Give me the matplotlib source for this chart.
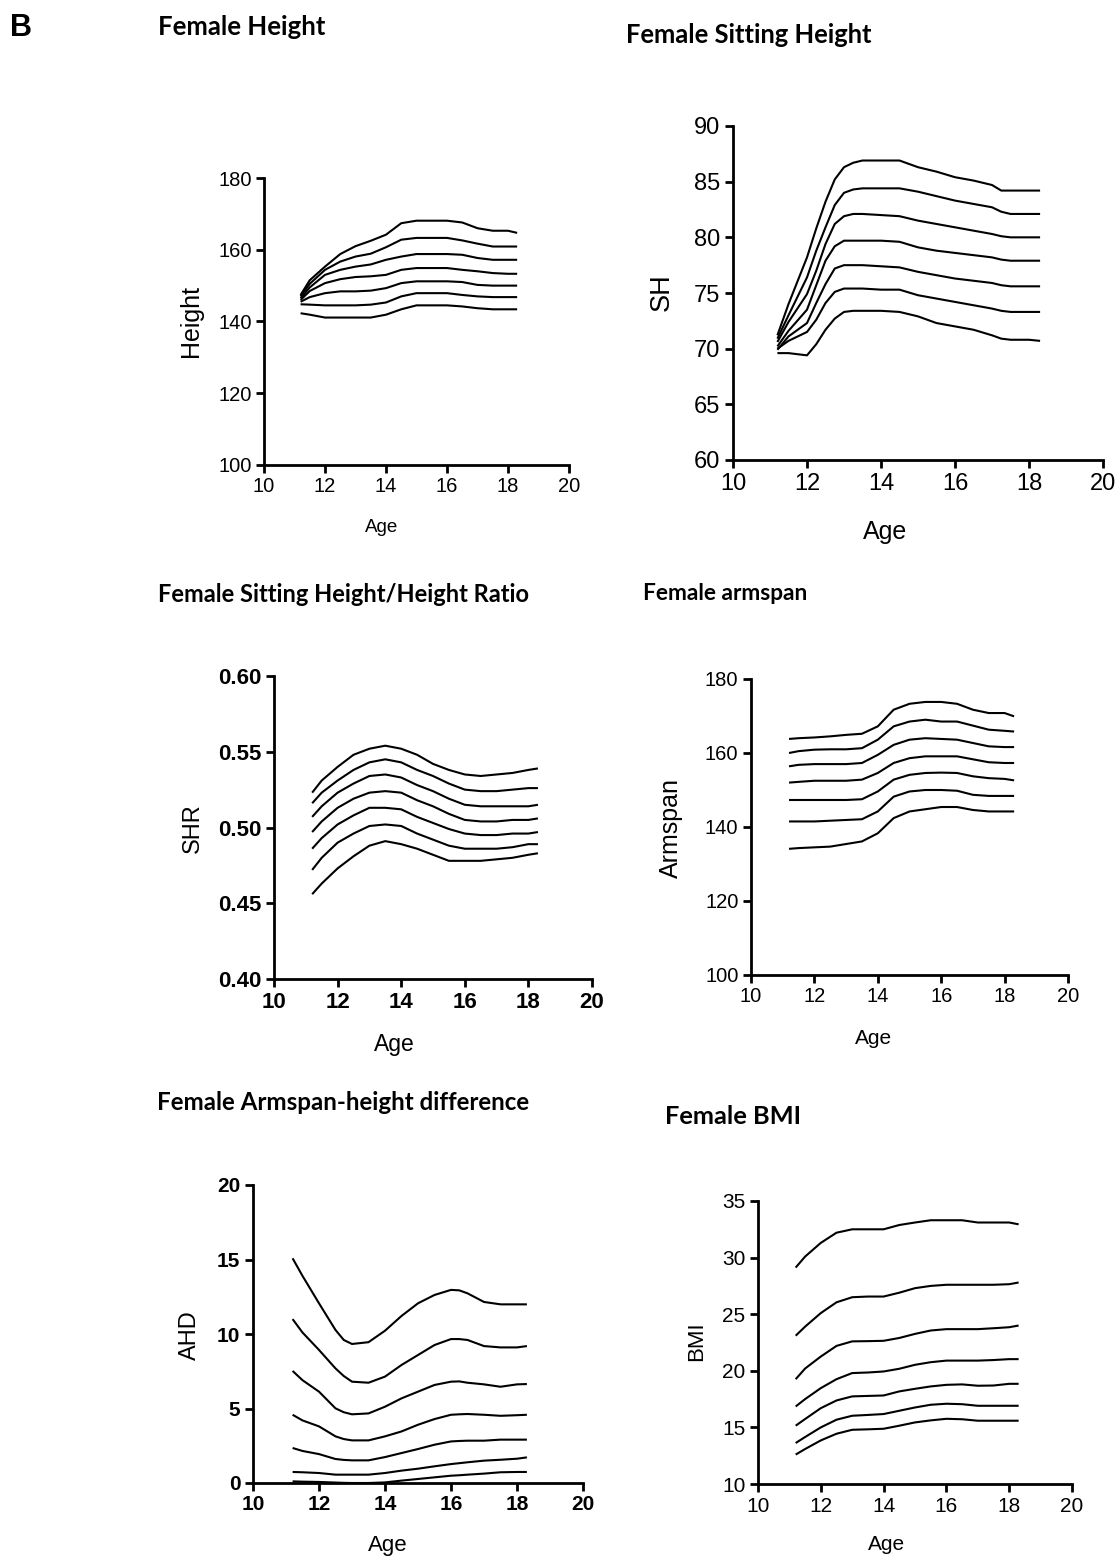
import matplotlib.pyplot as plt

# common age grid for the percentile curves (years)
ages = [11.2, 11.5, 12.0, 12.5, 13.0, 13.5, 14.0, 14.5, 15.0, 15.5, 16.0, 16.5, 17.0, 17.5, 18.0, 18.3]
# denser grids where the curves bend sharply
ages_sh = [11.2, 11.5, 12.0, 12.25, 12.5, 12.75, 13.0, 13.25, 13.5, 14.0,
           14.5, 15.0, 15.5, 16.0, 16.5, 17.0, 17.25, 17.5, 18.0, 18.3]
ages_ahd = [11.2, 11.5, 12.0, 12.5, 12.75, 13.0, 13.5, 14.0, 14.5, 15.0,
            15.5, 16.0, 16.25, 16.5, 17.0, 17.5, 18.0, 18.3]

# Height (cm), highest percentile first
height_curves = [
    [147.4, 151.5, 155.3, 158.8, 161.0, 162.5, 164.2, 167.4, 168.1, 168.1, 168.1, 167.6, 166.0, 165.3, 165.3, 164.7],
    [147.0, 150.5, 154.4, 156.7, 158.1, 158.9, 160.7, 162.8, 163.3, 163.3, 163.3, 162.6, 161.7, 160.9, 160.9, 160.9],
    [146.5, 149.5, 153.0, 154.4, 155.3, 155.9, 157.2, 158.1, 158.8, 158.8, 158.8, 158.6, 157.7, 157.2, 157.2, 157.2],
    [146.0, 148.5, 150.7, 151.8, 152.4, 152.6, 153.0, 154.4, 154.9, 154.9, 154.9, 154.4, 154.0, 153.5, 153.3, 153.3],
    [145.5, 146.8, 147.9, 148.4, 148.4, 148.6, 149.3, 150.7, 151.2, 151.2, 151.2, 151.0, 150.2, 150.0, 150.0, 150.0],
    [144.8, 144.7, 144.5, 144.5, 144.5, 144.7, 145.3, 147.0, 147.9, 147.9, 147.9, 147.4, 147.0, 146.8, 146.8, 146.8],
    [142.3, 141.9, 141.1, 141.1, 141.1, 141.1, 141.9, 143.4, 144.5, 144.5, 144.5, 144.2, 143.7, 143.4, 143.4, 143.4],
]

# Sitting height (cm)
sh_curves = [
    [71.2, 74.0, 78.2, 80.8, 83.2, 85.2, 86.3, 86.7, 86.9, 86.9, 86.9, 86.3, 85.9, 85.4, 85.1, 84.7, 84.2, 84.2, 84.2, 84.2],
    [70.9, 73.0, 76.4, 78.8, 80.9, 82.9, 84.0, 84.3, 84.4, 84.4, 84.4, 84.1, 83.7, 83.3, 83.0, 82.7, 82.3, 82.1, 82.1, 82.1],
    [70.6, 72.4, 74.9, 77.0, 79.4, 81.2, 81.9, 82.1, 82.1, 82.0, 81.9, 81.5, 81.2, 80.9, 80.6, 80.3, 80.1, 80.0, 80.0, 80.0],
    [70.2, 71.6, 73.5, 75.7, 77.9, 79.2, 79.7, 79.7, 79.7, 79.7, 79.6, 79.1, 78.8, 78.6, 78.4, 78.2, 78.0, 77.9, 77.9, 77.9],
    [69.9, 71.1, 72.3, 74.1, 75.8, 77.2, 77.5, 77.5, 77.5, 77.4, 77.3, 76.9, 76.6, 76.3, 76.1, 75.9, 75.7, 75.6, 75.6, 75.6],
    [70.0, 70.7, 71.5, 72.6, 74.1, 75.1, 75.4, 75.4, 75.4, 75.3, 75.3, 74.8, 74.5, 74.2, 73.9, 73.6, 73.4, 73.3, 73.3, 73.3],
    [69.6, 69.6, 69.4, 70.4, 71.7, 72.7, 73.3, 73.4, 73.4, 73.4, 73.3, 72.9, 72.3, 72.0, 71.7, 71.2, 70.9, 70.8, 70.8, 70.7],
]

# Sitting height / height ratio
shr_curves = [
    [0.523, 0.531, 0.540, 0.548, 0.552, 0.554, 0.552, 0.548, 0.542, 0.538, 0.535, 0.534, 0.535, 0.536, 0.538, 0.539],
    [0.516, 0.523, 0.531, 0.538, 0.543, 0.545, 0.543, 0.538, 0.534, 0.529, 0.525, 0.524, 0.524, 0.525, 0.526, 0.526],
    [0.507, 0.514, 0.523, 0.529, 0.534, 0.535, 0.533, 0.528, 0.524, 0.519, 0.515, 0.514, 0.514, 0.514, 0.514, 0.515],
    [0.497, 0.504, 0.513, 0.519, 0.523, 0.524, 0.523, 0.518, 0.514, 0.509, 0.505, 0.504, 0.504, 0.505, 0.505, 0.506],
    [0.486, 0.493, 0.502, 0.508, 0.513, 0.513, 0.512, 0.507, 0.503, 0.499, 0.496, 0.495, 0.495, 0.496, 0.496, 0.497],
    [0.472, 0.480, 0.490, 0.496, 0.501, 0.502, 0.501, 0.496, 0.492, 0.488, 0.486, 0.486, 0.486, 0.487, 0.489, 0.489],
    [0.456, 0.463, 0.473, 0.481, 0.488, 0.491, 0.489, 0.486, 0.482, 0.478, 0.478, 0.478, 0.479, 0.480, 0.482, 0.483],
]

# Armspan (cm)
armspan_curves = [
    [163.8, 164.0, 164.2, 164.5, 164.9, 165.2, 167.2, 171.7, 173.3, 173.8, 173.8, 173.3, 171.7, 170.8, 170.8, 169.9],
    [160.0, 160.5, 160.9, 161.0, 161.0, 161.3, 163.6, 167.2, 168.5, 169.0, 168.5, 168.5, 167.4, 166.3, 166.0, 165.8],
    [156.4, 156.8, 157.0, 157.0, 157.0, 157.3, 159.5, 162.2, 163.6, 164.0, 163.8, 163.6, 162.7, 161.8, 161.6, 161.6],
    [152.0, 152.2, 152.5, 152.5, 152.5, 152.8, 154.6, 157.3, 158.6, 159.1, 159.1, 159.1, 158.3, 157.5, 157.3, 157.3],
    [147.3, 147.3, 147.3, 147.3, 147.3, 147.5, 149.6, 152.8, 154.1, 154.6, 154.7, 154.6, 153.7, 153.2, 153.0, 152.6],
    [141.5, 141.5, 141.5, 141.7, 141.9, 142.1, 144.2, 148.2, 149.6, 150.0, 150.0, 149.8, 148.7, 148.4, 148.4, 148.4],
    [134.1, 134.3, 134.5, 134.7, 135.4, 136.1, 138.3, 142.4, 144.2, 144.8, 145.4, 145.4, 144.6, 144.2, 144.2, 144.2],
]

# Armspan-height difference (cm)
ahd_curves = [
    [15.08, 13.9, 12.06, 10.27, 9.6, 9.33, 9.45, 10.22, 11.21, 12.06, 12.62, 12.96, 12.93, 12.73, 12.15, 11.99, 11.99, 11.99],
    [11.0, 10.1, 8.93, 7.69, 7.18, 6.80, 6.73, 7.14, 7.92, 8.59, 9.26, 9.66, 9.66, 9.60, 9.19, 9.10, 9.10, 9.19],
    [7.52, 6.9, 6.13, 5.01, 4.75, 4.61, 4.67, 5.12, 5.68, 6.13, 6.58, 6.80, 6.82, 6.73, 6.62, 6.46, 6.62, 6.64],
    [4.58, 4.2, 3.8, 3.13, 2.95, 2.86, 2.86, 3.13, 3.46, 3.91, 4.29, 4.58, 4.61, 4.63, 4.58, 4.51, 4.55, 4.58],
    [2.35, 2.15, 1.94, 1.61, 1.55, 1.52, 1.52, 1.74, 2.01, 2.28, 2.57, 2.79, 2.82, 2.84, 2.84, 2.91, 2.91, 2.91],
    [0.74, 0.72, 0.67, 0.56, 0.56, 0.56, 0.56, 0.67, 0.83, 0.96, 1.12, 1.27, 1.33, 1.39, 1.50, 1.56, 1.63, 1.72],
    [0.11, 0.09, 0.07, 0.03, 0.01, 0.0, 0.0, 0.04, 0.16, 0.27, 0.38, 0.49, 0.52, 0.56, 0.63, 0.72, 0.74, 0.74],
]

# BMI (kg/m2)
bmi_curves = [
    [29.12, 30.09, 31.3, 32.2, 32.5, 32.5, 32.5, 32.88, 33.1, 33.3, 33.3, 33.3, 33.1, 33.1, 33.1, 32.94],
    [23.1, 23.9, 25.1, 26.05, 26.5, 26.56, 26.56, 26.9, 27.3, 27.5, 27.6, 27.6, 27.6, 27.6, 27.65, 27.8],
    [19.26, 20.2, 21.26, 22.2, 22.6, 22.62, 22.65, 22.9, 23.26, 23.56, 23.68, 23.68, 23.68, 23.76, 23.85, 24.0],
    [16.85, 17.5, 18.47, 19.26, 19.8, 19.85, 19.94, 20.18, 20.53, 20.76, 20.9, 20.9, 20.9, 20.95, 21.03, 21.03],
    [15.15, 15.74, 16.7, 17.38, 17.74, 17.78, 17.82, 18.18, 18.41, 18.62, 18.76, 18.8, 18.68, 18.7, 18.85, 18.85],
    [13.62, 14.15, 15.0, 15.68, 16.03, 16.1, 16.18, 16.47, 16.76, 17.0, 17.09, 17.05, 16.91, 16.91, 16.91, 16.91],
    [12.6, 13.09, 13.85, 14.44, 14.79, 14.83, 14.88, 15.15, 15.44, 15.62, 15.76, 15.72, 15.59, 15.59, 15.59, 15.59],
]

x_ticks = [10, 12, 14, 16, 18, 20]

W, H = 1118, 1558
fig = plt.figure(figsize=(W / 100, H / 100), dpi=100)

SANS = ['Liberation Sans', 'DejaVu Sans']
TITLE = ['Lato', 'DejaVu Sans']


def px_rect(x0, y0, x1, y1):
    return [x0 / W, 1 - y1 / H, (x1 - x0) / W, (y1 - y0) / H]


def growth_panel(rect, x, curves, ylim, yticks, ytick_fmt, tick_fs, weight='normal'):
    ax = fig.add_axes(px_rect(*rect))
    for c in curves:
        ax.plot(x, c, color='black', lw=1.5, clip_on=False, solid_capstyle='butt')
    ax.set_xlim(10, 20)
    ax.set_ylim(*ylim)
    ax.set_xticks(x_ticks)
    ax.set_yticks(yticks)
    ax.set_xticklabels([str(t) for t in x_ticks])
    ax.set_yticklabels([ytick_fmt.format(t) for t in yticks])
    for s in ['top', 'right']:
        ax.spines[s].set_visible(False)
    for s in ['left', 'bottom']:
        ax.spines[s].set_linewidth(2.0)
    ax.tick_params(direction='out', length=6, width=2.0, pad=3, labelsize=tick_fs)
    for lab in ax.get_xticklabels() + ax.get_yticklabels():
        lab.set_family(SANS)
        lab.set_fontweight(weight)
    return ax


def label(x, y, s, fs, rot=0):
    fig.text(x / W, 1 - y / H, s, fontsize=fs, family=SANS, rotation=rot,
             ha='center', va='center')


def title(x, y, s, fs):
    fig.text(x / W, 1 - y / H, s, fontsize=fs, family=TITLE, fontweight='bold',
             ha='left', va='center')


# panel letter
fig.text(10 / W, 1 - 28 / H, 'B', fontsize=22, family=SANS, fontweight='bold',
         ha='left', va='center')

# Female Height
growth_panel((264, 178, 569, 465), ages, height_curves, (100, 180), [100, 120, 140, 160, 180], '{:d}', 14.5)
title(158, 27, 'Female Height', 18.5)
label(382, 527, 'Age', 13.5)
label(191, 321, 'Height', 18, 90)

# Female Sitting Height
growth_panel((733, 126, 1103, 460), ages_sh, sh_curves, (60, 90), [60, 65, 70, 75, 80, 85, 90], '{:d}', 17)
title(626, 35, 'Female Sitting Height', 18.4)
label(885, 532, 'Age', 18)
label(662, 292, 'SH', 19.5, 90)

# Female Sitting Height/Height Ratio
growth_panel((274, 676, 592, 979), ages, shr_curves, (0.40, 0.60), [0.40, 0.45, 0.50, 0.55, 0.60], '{:.2f}', 16, 'bold')
title(158, 595, 'Female Sitting Height/Height Ratio', 17)
label(394, 1045, 'Age', 16.5)
label(193, 828, 'SHR', 17, 90)

# Female armspan
growth_panel((751, 679, 1068, 975), ages, armspan_curves, (100, 180), [100, 120, 140, 160, 180], '{:d}', 14.5)
title(643, 593, 'Female armspan', 16.3)
label(874, 1038, 'Age', 15)
label(671, 828, 'Armspan', 18, 90)

# Female Armspan-height difference
growth_panel((253, 1185, 583, 1483), ages_ahd, ahd_curves, (0, 20), [0, 5, 10, 15, 20], '{:d}', 15, 'bold')
title(157, 1103, 'Female Armspan-height difference', 17.4)
label(388, 1546, 'Age', 16)
label(190, 1335, 'AHD', 17, 90)

# Female BMI
growth_panel((758, 1201, 1072, 1484), ages, bmi_curves, (10, 35), [10, 15, 20, 25, 30, 35], '{:d}', 15)
title(665, 1116, 'Female BMI', 18.3)
label(887, 1545, 'Age', 15)
label(697, 1341, 'BMI', 16, 90)

fig.savefig('out.png', dpi=100)
